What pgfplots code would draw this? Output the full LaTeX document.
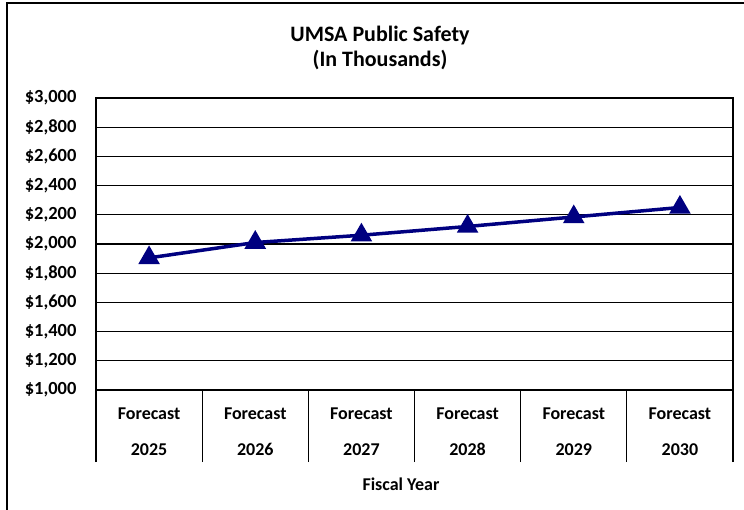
\documentclass[border=0pt]{standalone}
\usepackage{pgfplots}
\pgfplotsset{compat=1.18}
\usepackage{fontspec}
\setmainfont{Carlito}
\definecolor{navyline}{RGB}{0,0,128}
\begin{document}
\begin{tikzpicture}[x=1bp,y=1bp]
\useasboundingbox (0,0) rectangle (744,510);
\draw[line width=1.3bp] (7,0) -- (7,507) -- (744,507);
\node[font=\fontsize{22bp}{25bp}\selectfont\bfseries, align=center] at (380,462.5) {UMSA Public Safety\\(In Thousands)};
\node[font=\fontsize{18bp}{20bp}\selectfont\bfseries] at (401,26) {Fiscal Year};
\begin{axis}[
  at={(96bp,120bp)}, anchor=south west, scale only axis,
  width=637bp, height=292bp,
  xmin=-0.5, xmax=5.5, ymin=1000, ymax=3000,
  ytick={1000,1200,...,3000},
  xtick={0,1,2,3,4,5},
  xticklabels={Forecast\\2025,Forecast\\2026,Forecast\\2027,Forecast\\2028,Forecast\\2029,Forecast\\2030},
  minor xtick={-0.5,0.5,1.5,2.5,3.5,4.5,5.5},
  xtick pos=bottom, ytick pos=left,
  major tick length=0pt, minor tick length=72bp, tick align=outside,
  minor tick style={black, line width=1.3bp},
  ymajorgrids, grid style={black, line width=1.3bp},
  axis line style={black, line width=1.3bp},
  /pgf/number format/assume math mode=true,
  /pgf/number format/1000 sep={,},
  yticklabel={\$\pgfmathprintnumber{\tick}},
  yticklabel style={font=\fontsize{18.5bp}{20bp}\selectfont\bfseries, xshift=-16bp},
  xticklabel style={font=\fontsize{18bp}{36bp}\selectfont\bfseries, align=center, yshift=-14bp},
  clip=false,
]
\addplot[navyline, line width=3.5bp, mark=triangle*, mark size=9bp, mark options={solid}]
  coordinates {(0,1905) (1,2010) (2,2060) (3,2120) (4,2185) (5,2250)};
\end{axis}
\end{tikzpicture}
\end{document}
